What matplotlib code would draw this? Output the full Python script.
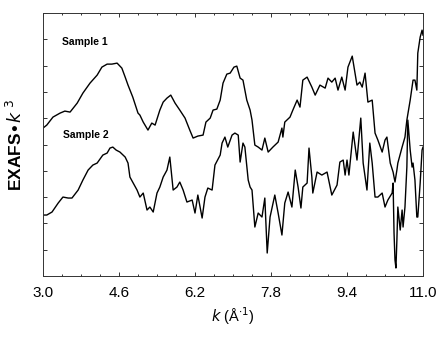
import matplotlib
matplotlib.use("Agg")
import matplotlib.pyplot as plt
import numpy as np

# EXAFS * k^3 traces (arbitrary vertical units)
k1 = [3.00, 3.08, 3.21, 3.36, 3.46, 3.57, 3.72, 3.84, 3.99, 4.14, 4.24, 4.35, 4.45, 4.56,
      4.66, 4.73, 4.79, 4.89, 5.00, 5.04, 5.11, 5.21, 5.29, 5.36, 5.46, 5.53, 5.61, 5.69,
      5.78, 5.88, 5.99, 6.09, 6.16, 6.26, 6.37, 6.43, 6.52, 6.58, 6.66, 6.73, 6.79, 6.87,
      6.94, 7.02, 7.08, 7.15, 7.21, 7.29, 7.36, 7.40, 7.46, 7.53, 7.61, 7.67, 7.74, 7.84,
      7.95, 8.03, 8.05, 8.09, 8.20, 8.26, 8.35, 8.41, 8.47, 8.56, 8.66, 8.73, 8.83, 8.94,
      9.00, 9.08, 9.15, 9.21, 9.29, 9.36, 9.42, 9.51, 9.61, 9.67, 9.72, 9.78, 9.84, 9.93,
      9.99, 10.05, 10.14, 10.20, 10.24, 10.31, 10.37, 10.41, 10.45, 10.47, 10.56, 10.62,
      10.66, 10.73, 10.79, 10.83, 10.87, 10.89, 10.94, 10.98, 11.00]
s1 = [148, 151, 159, 163, 165, 164, 173, 183, 193, 201, 209, 212, 212, 213,
      208, 199, 191, 179, 163, 161, 154, 146, 153, 151, 166, 174, 178, 181,
      173, 166, 158, 146, 138, 140, 141, 154, 158, 166, 167, 176, 193, 202,
      203, 209, 210, 198, 196, 176, 166, 156, 131, 129, 126, 138, 124, 129,
      134, 148, 139, 154, 159, 166, 176, 169, 196, 199, 189, 181, 191, 188,
      198, 194, 198, 186, 199, 186, 209, 220, 191, 194, 189, 203, 174, 176,
      143, 136, 124, 136, 139, 113, 104, 94, 106, 113, 129, 139,
      156, 176, 196, 196, 186, 223, 239, 246, 241]

k2 = [3.00, 3.08, 3.19, 3.32, 3.42, 3.53, 3.61, 3.74, 3.84, 3.95, 4.05, 4.14, 4.26, 4.35,
      4.41, 4.47, 4.54, 4.62, 4.73, 4.79, 4.83, 4.98, 5.04, 5.11, 5.19, 5.25, 5.32, 5.40,
      5.46, 5.53, 5.61, 5.67, 5.74, 5.82, 5.88, 5.95, 6.03, 6.14, 6.20, 6.26, 6.35, 6.41,
      6.47, 6.56, 6.62, 6.73, 6.77, 6.83, 6.89, 6.98, 7.04, 7.11, 7.15, 7.21, 7.25, 7.32,
      7.36, 7.40, 7.46, 7.53, 7.61, 7.67, 7.72, 7.78, 7.88, 7.95, 8.03, 8.09, 8.16, 8.24,
      8.31, 8.37, 8.43, 8.47, 8.56, 8.60, 8.66, 8.68, 8.77, 8.87, 8.98, 9.08, 9.19, 9.25,
      9.32, 9.36, 9.40, 9.44, 9.53, 9.61, 9.69, 9.74, 9.82, 9.88, 9.93, 9.99, 10.05,
      10.14, 10.20, 10.26, 10.35, 10.37, 10.39, 10.41, 10.43, 10.45, 10.47, 10.52, 10.56,
      10.58, 10.62, 10.66, 10.68, 10.73, 10.77, 10.79, 10.83, 10.87, 10.89, 10.94, 10.98,
      11.00]
s2 = [61, 61, 64, 73, 79, 78, 78, 86, 96, 106, 111, 113, 121, 123,
      128, 129, 126, 124, 119, 113, 99, 86, 79, 83, 66, 69, 64, 83,
      89, 99, 106, 119, 86, 89, 94, 86, 74, 76, 63, 81, 58, 79,
      88, 86, 111, 121, 133, 139, 129, 141, 143, 141, 114, 133, 129, 96,
      89, 86, 49, 63, 59, 78, 23, 59, 81, 63, 41, 73, 84, 69,
      106, 89, 68, 89, 93, 128, 99, 83, 104, 101, 104, 81, 91, 114,
      116, 101, 116, 101, 144, 116, 158, 113, 86, 133, 113, 79, 79,
      83, 69, 76, 83, 93, 43, 16, 8, 36, 69, 46, 66,
      49, 69, 109, 156, 126, 109, 113, 96, 59, 59, 93, 126,
      129]

xticks = [3.0, 4.6, 6.2, 7.8, 9.4, 11.0]
xticklabels = ["3.0", "4.6", "6.2", "7.8", "9.4", "11.0"]

plt.rcParams['font.family'] = ['Liberation Sans', 'DejaVu Sans']

fig = plt.figure(figsize=(4.45, 3.37), dpi=100)
ax = fig.add_axes([0.0966, 0.181, 0.854, 0.780])

ax.plot(k1, s1, color='black', lw=1.0)
ax.plot(k2, s2, color='black', lw=1.0)

ax.text(3.4, 234, "Sample 1", fontsize=7.5, fontweight='bold', va='center')
ax.text(3.42, 141, "Sample 2", fontsize=7.5, fontweight='bold', va='center')

ax.set_xlim(3.0, 11.0)
ax.set_ylim(0, 263)
ax.set_xticks(xticks)
ax.set_xticklabels(xticklabels, fontsize=11)
ax.set_xticks(np.arange(3.0, 11.01, 0.4), minor=True)
ax.set_yticks(np.arange(0, 264, 26.3))
ax.set_yticklabels([])
ax.tick_params(which='both', direction='in', top=True, right=True, width=0.7, color='#333333')
ax.tick_params(which='major', length=3, pad=7)
ax.tick_params(which='minor', length=1.5)

for sp in ax.spines.values():
    sp.set_linewidth(0.7)
    sp.set_color('#333333')

ax.set_xlabel(r"$\it{k}$ (Å$^{\cdot 1}$)", fontsize=10.5, labelpad=4)
ax.set_ylabel(r"EXAFS$\bullet$$\it{k}$ $^{3}$", fontsize=12.5, fontweight='bold', labelpad=6)

fig.savefig("out.png", dpi=100)
